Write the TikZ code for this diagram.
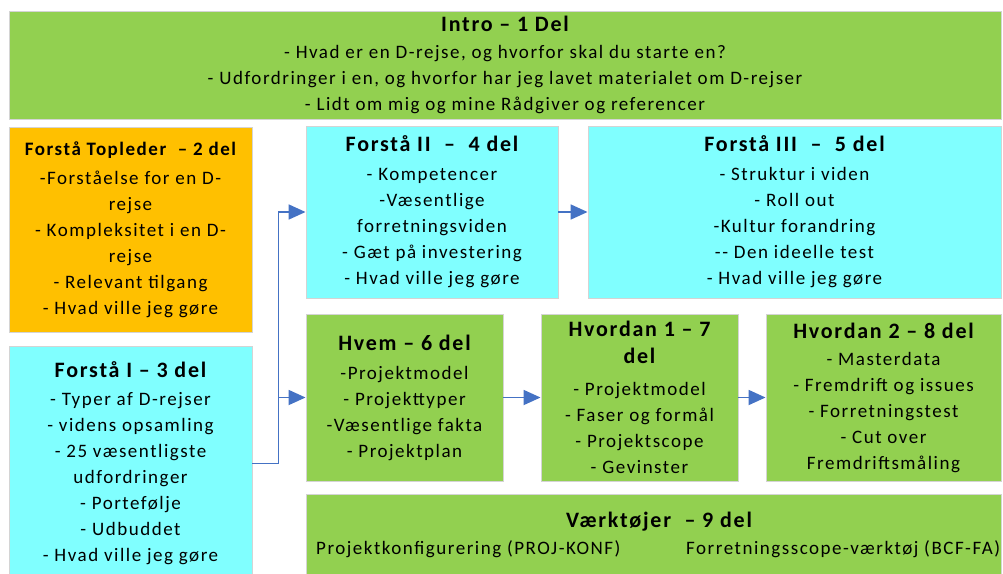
\documentclass[tikz,border=0pt]{standalone}
\usepackage{fontspec}
\setmainfont{Carlito}[LetterSpace=8]
\usetikzlibrary{arrows.meta}
\definecolor{gr}{HTML}{92D050}
\definecolor{cy}{HTML}{80FFFF}
\definecolor{og}{HTML}{FFC000}
\definecolor{bd}{HTML}{D4D4D4}
\definecolor{ar}{HTML}{4472C4}
\newcommand{\ttl}{\fontsize{22}{26}\selectfont\bfseries}
\newcommand{\bdy}{\fontsize{19}{26}\selectfont}
\begin{document}
\begin{tikzpicture}[x=1pt,y=-1pt,
  box/.style={draw=bd, line width=0.9pt, align=center, inner sep=0pt, font=\bdy},
  conn/.style={draw=ar, line width=1.8pt, -{Triangle[length=17pt,width=15pt]}}]
\useasboundingbox (0,0) rectangle (1003,573);
\clip (0,0) rectangle (1003,573);
\node[box, fill=gr, minimum width=992, minimum height=108] (intro) at (505,65)
  {{\ttl Intro -- 1 Del}\\[1pt]
   - Hvad er en D-rejse, og hvorfor skal du starte en?\\
   - Udfordringer i en, og hvorfor har jeg lavet materialet om D-rejser\\
   - Lidt om mig og mine Rådgiver og referencer};
\node[box, fill=og, minimum width=243, minimum height=205] (top) at (130.5,229.5)
  {{\bfseries Forstå Topleder\ \ -- 2 del}\\[3pt]
   -Forståelse for en D-\\ rejse\\ - Kompleksitet i en D-\\ rejse\\
   - Relevant tilgang\\ - Hvad ville jeg gøre};
\node[box, fill=cy, minimum width=243, minimum height=235] (f1) at (130.5,463.5)
  {{\ttl Forstå I -- 3 del}\\[2pt]
   - Typer af D-rejser\\ - videns opsamling\\ - 25 væsentligste\\ udfordringer\\
   - Portefølje\\ - Udbuddet\\ - Hvad ville jeg gøre};
\node[box, fill=cy, minimum width=252, minimum height=172] (f2) at (432,212)
  {{\ttl Forstå II\ \ --\ \ 4 del}\\[3pt]
   - Kompetencer\\ -Væsentlige\\ forretningsviden\\ - Gæt på investering\\ - Hvad ville jeg gøre};
\node[box, fill=cy, minimum width=413, minimum height=172] (f3) at (794.5,212)
  {{\ttl Forstå III\ \ --\ \ 5 del}\\[3pt]
   - Struktur i viden\\ - Roll out\\ -Kultur forandring\\ -{}- Den ideelle test\\ - Hvad ville jeg gøre};
\node[box, fill=gr, minimum width=197, minimum height=167] (hvem) at (404.5,397.5)
  {{\ttl Hvem -- 6 del}\\[3pt]
   -Projektmodel\\ - Projekttyper\\ -Væsentlige fakta\\ - Projektplan};
\node[box, fill=gr, minimum width=197, minimum height=167] (h1) at (639.5,397.5)
  {{\ttl Hvordan 1 -- 7}\\[1pt]{\ttl del}\\[6pt]
   - Projektmodel\\ - Faser og formål\\ - Projektscope\\ - Gevinster};
\node[box, fill=gr, minimum width=235, minimum height=167] (h2) at (883.5,397.5)
  {{\ttl Hvordan 2 -- 8 del}\\[1pt]
   - Masterdata\\ - Fremdrift og issues\\ - Forretningstest\\ - Cut over\\ Fremdriftsmåling};
\node[box, fill=gr, minimum width=695, minimum height=96] (vk) at (653.5,542) {};
\node[font=\ttl, inner sep=0pt] (vkt) at (659,522) {Værktøjer\ \ -- 9 del};
\node[font=\bdy, inner sep=0pt, anchor=west] (vkl) at (316,549) {Projektkonfigurering (PROJ-KONF)};
\node[font=\bdy, inner sep=0pt, anchor=west] (vkr) at (686,549) {Forretningsscope-værktøj (BCF-FA)};
\draw[conn] (f1.east) -- ++(26,0) |- (f2.west);
\draw[conn] (f1.east) -- ++(26,0) |- (hvem.west);
\draw[conn] (f2.east) -- (f3.west);
\draw[conn] (hvem.east) -- (h1.west);
\draw[conn] (h1.east) -- (h2.west);
\end{tikzpicture}
\end{document}
